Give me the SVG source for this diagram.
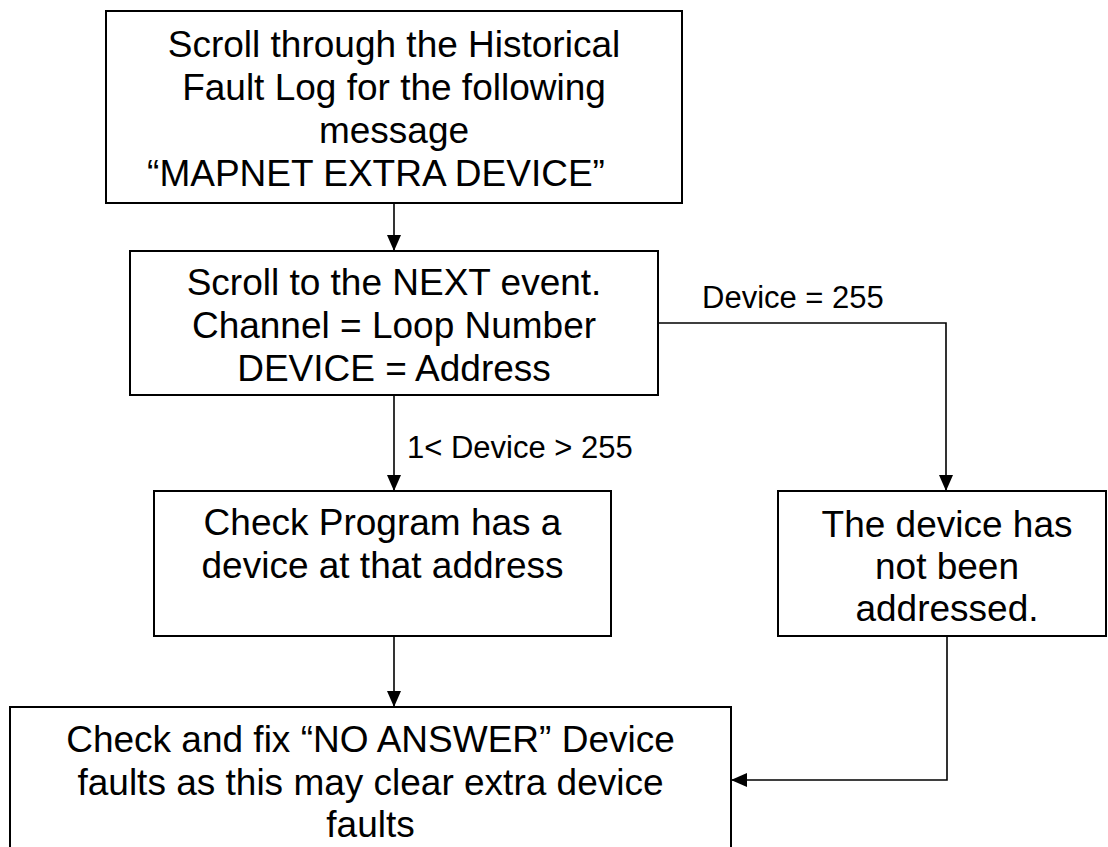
<svg xmlns="http://www.w3.org/2000/svg" width="1108" height="847" viewBox="0 0 1108 847">
<style>
.box{fill:#fff;stroke:#000;stroke-width:2}
.t{font-family:"Liberation Sans",Arial,sans-serif;font-size:37px;fill:#000;text-anchor:middle}
.l{font-family:"Liberation Sans",Arial,sans-serif;font-size:31px;fill:#000}
.c{fill:none;stroke:#000;stroke-width:1.6}
</style>
<defs>
<marker id="ah" markerUnits="userSpaceOnUse" markerWidth="16" markerHeight="14" refX="16" refY="7" orient="auto">
<path d="M0,0 L16,7 L0,14 z" fill="#000"/>
</marker>
</defs>
<rect width="1108" height="847" fill="#fff"/>
<g id="connectors">
<path class="c" d="M394,203 V251" marker-end="url(#ah)"/>
<path class="c" d="M394,395 V491" marker-end="url(#ah)"/>
<path class="c" d="M658,323 H946 V491" marker-end="url(#ah)"/>
<path class="c" d="M394,636 V707" marker-end="url(#ah)"/>
<path class="c" d="M947,636 V780 H731" marker-end="url(#ah)"/>
<text class="l" x="702" y="308">Device = 255</text>
<text class="l" x="407" y="458">1&lt; Device &gt; 255</text>
</g>
<g id="n1">
<rect class="box" x="106" y="11" width="576" height="192"/>
<text class="t" x="394" y="57">Scroll through the Historical</text>
<text class="t" x="394" y="100">Fault Log for the following</text>
<text class="t" x="394" y="143">message</text>
<text class="t" x="376" y="186">“MAPNET EXTRA DEVICE”</text>
</g>
<g id="n2">
<rect class="box" x="130" y="251" width="528" height="144"/>
<text class="t" x="394" y="295">Scroll to the NEXT event.</text>
<text class="t" x="394" y="338">Channel = Loop Number</text>
<text class="t" x="394" y="381">DEVICE = Address</text>
</g>
<g id="n3">
<rect class="box" x="154" y="491" width="457" height="145"/>
<text class="t" x="382.5" y="535">Check Program has a</text>
<text class="t" x="382.5" y="578">device at that address</text>
</g>
<g id="n4">
<rect class="box" x="778" y="491" width="328" height="145"/>
<text class="t" x="947" y="537">The device has</text>
<text class="t" x="947" y="579">not been</text>
<text class="t" x="947" y="621">addressed.</text>
</g>
<g id="n5">
<rect class="box" x="10" y="707" width="721" height="160"/>
<text class="t" x="370.5" y="752">Check and fix “NO ANSWER” Device</text>
<text class="t" x="370.5" y="795">faults as this may clear extra device</text>
<text class="t" x="370.5" y="837">faults</text>
</g>
</svg>
